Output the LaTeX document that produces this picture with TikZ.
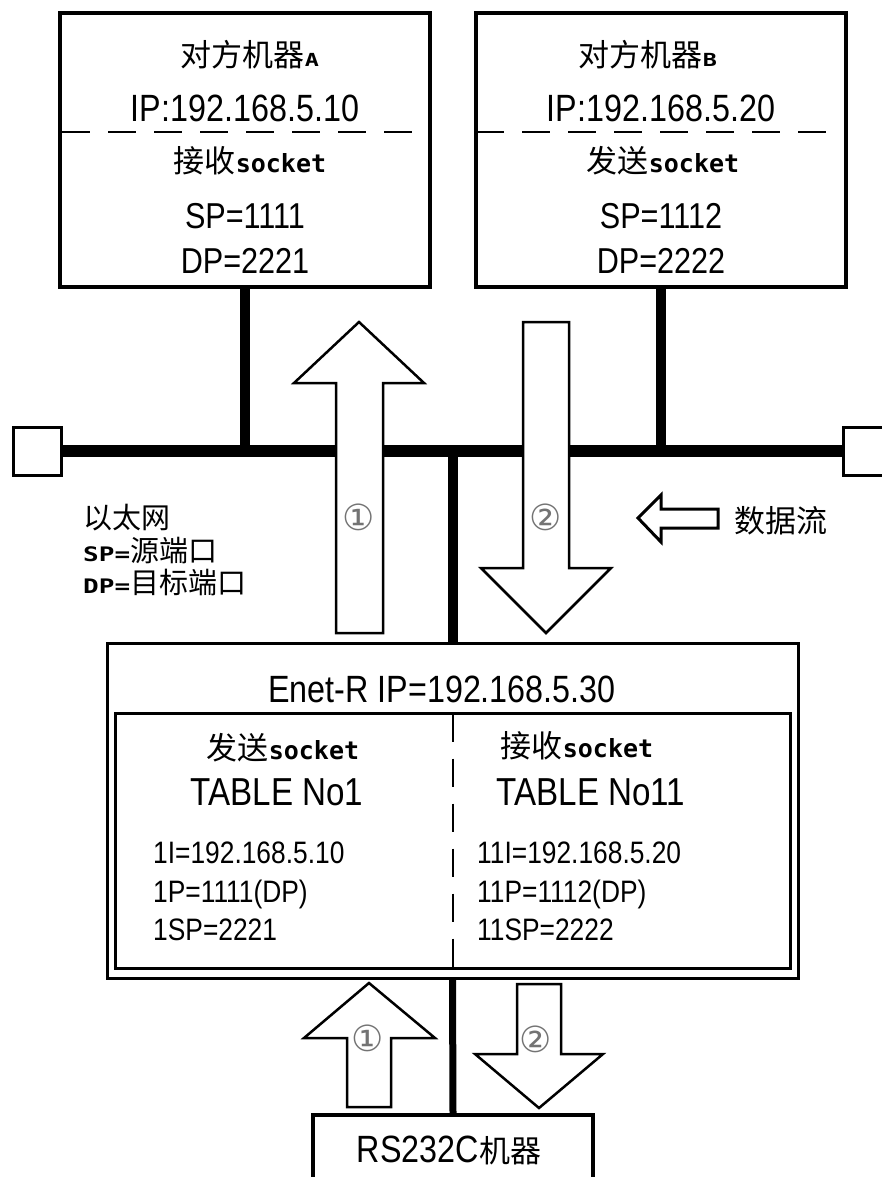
\documentclass[tikz,border=0pt]{standalone}
\usepackage{fontspec}
\setmainfont{Liberation Sans}[FakeStretch=0.85]
\newfontfamily\cjk{Noto Sans CJK SC}
\newfontfamily\mono{DejaVu Sans Mono}
\newfontfamily\monow{DejaVu Sans Mono}[FakeStretch=1.3]
\newfontfamily\symf{DejaVu Sans}
\newcommand\setfs[1]{\fontsize{#1}{#1}\selectfont}
\newcommand\zh[1]{{\cjk\setfs{31}#1}}
\newcommand\sock{{\mono\bfseries\setfs{25}socket}}
\begin{document}
\begin{tikzpicture}[x=1pt,y=-1pt,
  hostbox/.style={draw, line width=3.5pt, minimum width=370pt, minimum height=274pt, inner sep=0pt},
  sq/.style={draw, line width=3pt, minimum size=48pt, inner sep=0pt},
  bus/.style={line width=12pt},
  stub/.style={line width=10pt},
  frame/.style={draw, line width=3pt, inner sep=0pt},
  hdash/.style={line width=2pt, dash pattern=on 28pt off 18pt},
  vdash/.style={line width=2pt, dash pattern=on 28pt off 17pt},
  blockarrow/.style={draw, fill=white, line width=2.5pt, line join=miter},
  tx/.style={inner sep=0pt},
  big/.style={tx, font=\setfs{38}},
  mid/.style={tx, font=\setfs{36}},
  small/.style={tx, font=\setfs{31}},
  circ/.style={tx, text=black!55, font=\symf\setfs{36}}
]
\useasboundingbox (0,0) rectangle (882,1177);
\clip (0,0) rectangle (882,1177);
\fill[white] (0,0) rectangle (882,1177);

% host boxes
\node[hostbox] (A) at (245,150) {};
\node[hostbox] (B) at (661,150) {};
\draw[line width=3pt] ([xshift=-2.5pt]A.north east) -- ([xshift=-2.5pt]A.south east);
\draw[line width=3pt] ([yshift=2.5pt]A.south west) -- ([yshift=2.5pt]A.south east);
\draw[line width=3pt] ([xshift=-2.5pt]B.north east) -- ([xshift=-2.5pt]B.south east);
\draw[line width=3pt] ([yshift=2.5pt]B.south west) -- ([yshift=2.5pt]B.south east);
\draw[hdash] (62,132) -- (428,132);
\draw[hdash] (476,132) -- (846,132);

\node[tx] (At) at (250,55) {\zh{对方机器}{\monow\bfseries\setfs{18}A}};
\node[big, anchor=base] (Aip) at (245,122) {IP:192.168.5.10};
\node[tx] (As) at (250,161) {\zh{接收}\sock};
\node[mid, anchor=base] (Asp) at (245,228) {SP=1111};
\node[mid, anchor=base] (Adp) at (245,273) {DP=2221};

\node[tx] (Bt) at (648,55) {\zh{对方机器}{\monow\bfseries\setfs{18}B}};
\node[big, anchor=base] (Bip) at (661,122) {IP:192.168.5.20};
\node[tx] (Bs) at (663,161) {\zh{发送}\sock};
\node[mid, anchor=base] (Bsp) at (661,228) {SP=1112};
\node[mid, anchor=base] (Bdp) at (661,273) {DP=2222};

% ethernet
\node[sq] (sqL) at (37.5,451) {};
\node[sq] (sqR) at (867.5,451) {};
\draw[bus] (sqL.east) -- (sqR.west);
\draw[stub] (A.south) -- (A.south |- sqL.east);
\draw[stub] (B.south) -- (B.south |- sqL.east);

% Enet-R
\node[frame, minimum width=691pt, minimum height=335pt] (enet) at (452.5,810.5) {};
\node[frame, minimum width=675pt, minimum height=255pt] (enetin) at (452.5,840.5) {};
\draw[stub] (enet.north) -- (enet.north |- sqL.east);
\draw[vdash] ([yshift=-2pt]enetin.north) -- ([yshift=3pt]enetin.south);

\node[big, anchor=base] (et) at (442,702) {Enet-R IP=192.168.5.30};
\node[tx] (s1) at (283,748) {\zh{发送}\sock};
\node[tx, font=\setfs{39}, anchor=base] (t1) at (277,805) {TABLE No1};
\node[tx] (s2) at (577,746) {\zh{接收}\sock};
\node[tx, font=\setfs{39}, anchor=base] (t2) at (591,805) {TABLE No11};
\node[small, anchor=base west] (l1) at (153,863) {1I=192.168.5.10};
\node[small, anchor=base west] (l2) at (153,902) {1P=1111(DP)};
\node[small, anchor=base west] (l3) at (153,940) {1SP=2221};
\node[small, anchor=base west] (r1) at (477,863) {11I=192.168.5.20};
\node[small, anchor=base west] (r2) at (477,902) {11P=1112(DP)};
\node[small, anchor=base west] (r3) at (477,940) {11SP=2222};

% RS232C
\node[draw, line width=4pt, minimum width=280pt, minimum height=80pt, inner sep=0pt] (rs) at (453,1155) {};
\node[big, anchor=base] (rst) at (449,1162) {RS232C\zh{机器}};
\draw[line width=7pt] (enet.south) -- (rs.north);

% block arrows, upper
\draw[blockarrow] (336,633) -- (336,383) -- (294,383) -- (359,322) -- (424,383) -- (383,383) -- (383,633) -- cycle;
\draw[blockarrow] (523,322) -- (523,568) -- (481,568) -- (546,633) -- (611,568) -- (569,568) -- (569,322) -- cycle;
\node[circ] (c1) at (359,517) {①};
\node[circ] (c2) at (546,517) {②};

% block arrows, lower
\draw[blockarrow] (347,1107) -- (347,1038) -- (304,1038) -- (369,983) -- (435,1038) -- (391,1038) -- (391,1107) -- cycle;
\draw[blockarrow] (517,984) -- (517,1054) -- (475,1054) -- (539,1108) -- (603,1054) -- (561,1054) -- (561,984) -- cycle;
\node[circ] (c3) at (368,1038) {①};
\node[circ] (c4) at (536,1039) {②};

% data flow legend
\draw[blockarrow, line width=3pt] (638,518) -- (661,495) -- (661,509) -- (718,509) -- (718,528) -- (661,528) -- (661,542) -- cycle;
\node[tx, anchor=west] (df) at (734,521) {\zh{数据流}};

% ethernet legend
\node[tx, anchor=west] (g1) at (83,518) {{\cjk\setfs{29}以太网}};
\node[tx, anchor=west] (g2) at (83,551) {{\monow\bfseries\setfs{20}SP=}{\cjk\setfs{29}源端口}};
\node[tx, anchor=west] (g3) at (83,583) {{\monow\bfseries\setfs{20}DP=}{\cjk\setfs{29}目标端口}};
\end{tikzpicture}
\end{document}
